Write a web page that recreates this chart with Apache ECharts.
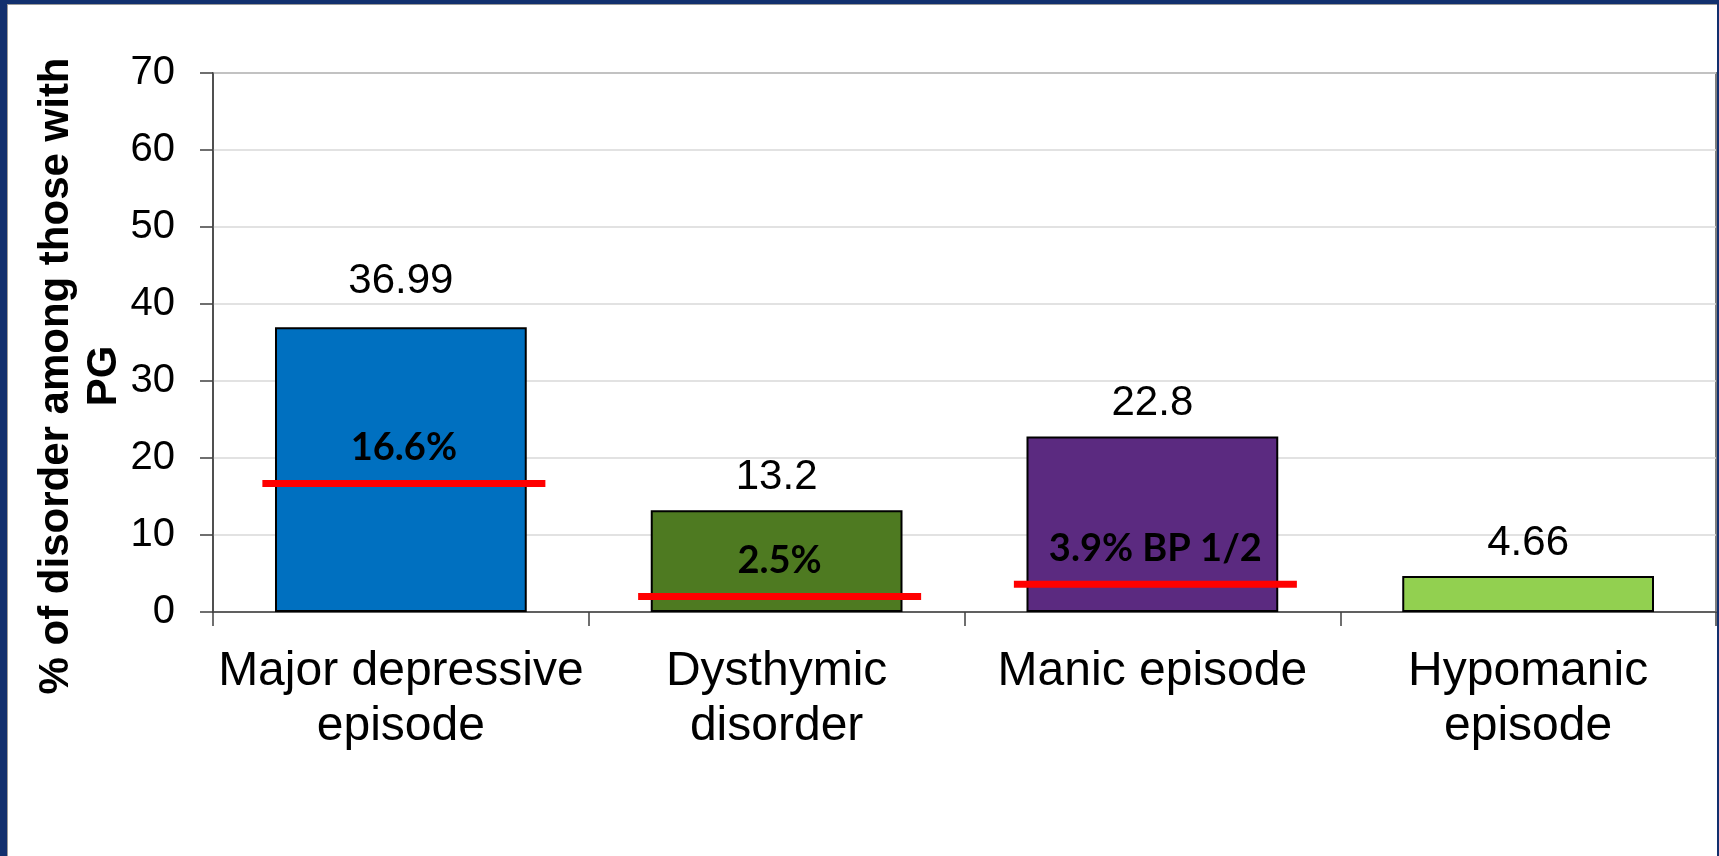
<!DOCTYPE html>
<html>
<head>
<meta charset="utf-8">
<script src="https://cdn.jsdelivr.net/npm/echarts@6/dist/echarts.min.js"></script>
<style>
    html, body { margin: 0; padding: 0; width: 1719px; height: 856px; overflow: hidden; background: #12306e; }
    .frame { position: absolute; left: 7px; top: 4px; right: 2px; bottom: 0; background: #fff; border-left: 1px solid #9a9a9a; border-top: 1px solid #9a9a9a; }
    .echart { position: absolute; left: 0; top: 0; width: 1719px; height: 856px; }
</style>
</head>
<body>
<div class="frame"></div>
<div class="echart" id="chart"></div>
<script>
    // 数据
    const categories = ['Major depressive\nepisode', 'Dysthymic\ndisorder', 'Manic episode', 'Hypomanic\nepisode']
    const values = [36.99, 13.2, 22.8, 4.66]
    const refLineValues = [16.7, 2.0, 3.6]   // 红线位置
    const refLineLabels = ['16.6%', '2.5%', '3.9% BP 1/2']
    const yTicks = { min: 0, max: 70, interval: 10 }
    const barColors = ['#0070C0', '#4E7A21', '#5B2A80', '#92D050']

    const chartInstance = echarts.init(document.getElementById('chart'), null, { renderer: 'canvas' })

    // 第一个柱子的数值标签在原图里放得更高一点
    const barData = values.map((v, i) => i === 0 ? { value: v, label: { offset: [0, -13] } } : v)

    const option = {
        animation: false,
        textStyle: { fontFamily: 'Liberation Sans, Arial, sans-serif' },
        grid: {
            left: 213, right: 3, top: 73, bottom: 244,
            show: true, borderColor: '#7f7f7f', borderWidth: 2, backgroundColor: 'transparent'
        },
        graphic: [{
            type: 'text',
            x: 80, y: 376,
            rotation: Math.PI / 2,
            style: {
                text: '% of disorder among those with\nPG',
                font: 'bold 42px "Liberation Sans", Arial, sans-serif',
                lineHeight: 48,
                fill: '#000',
                align: 'center',
                verticalAlign: 'middle'
            }
        }],
        xAxis: {
            type: 'category',
            data: categories,
            axisLine: { lineStyle: { color: '#404040', width: 1.5 } },
            axisTick: { show: true, length: 14, lineStyle: { color: '#404040', width: 1.5 } },
            axisLabel: { interval: 0, fontSize: 48, lineHeight: 55, color: '#000', margin: 32 }
        },
        yAxis: {
            type: 'value',
            min: yTicks.min, max: yTicks.max, interval: yTicks.interval,
            axisLine: { show: true, lineStyle: { color: '#404040', width: 1.5 } },
            axisTick: { show: true, length: 13, lineStyle: { color: '#404040', width: 1.5 } },
            axisLabel: { fontSize: 40, color: '#000', margin: 38 },
            splitLine: { lineStyle: { color: '#d9d9d9', width: 1.5 } }
        },
        series: [
            {
                type: 'bar',
                data: barData,
                barCategoryGap: '33%',
                itemStyle: {
                    color: p => barColors[p.dataIndex],
                    borderColor: '#000',
                    borderWidth: 2
                },
                label: {
                    show: true, position: 'top', distance: 12,
                    fontSize: 42, color: '#000'
                },
                z: 2
            },
            {
                type: 'scatter',
                data: refLineValues,
                symbol: 'rect',
                symbolSize: [283, 7],
                symbolOffset: [3, 0],
                itemStyle: { color: '#ff0000', opacity: 1 },
                label: {
                    show: true, position: 'top', distance: 13,
                    formatter: p => refLineLabels[p.dataIndex],
                    fontFamily: 'Lato, sans-serif', fontWeight: 'bold', fontSize: 38, color: '#000'
                },
                z: 5
            }
        ]
    }
    chartInstance.setOption(option)
</script>
</body>
</html>
